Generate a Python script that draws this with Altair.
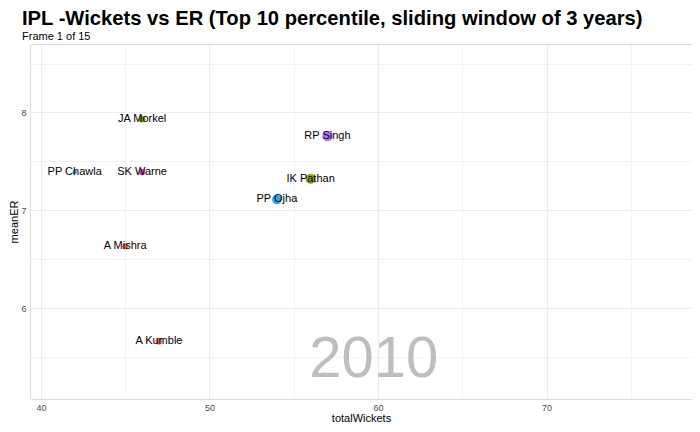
import altair as alt
import pandas as pd

players = ["A Kumble", "A Mishra", "JA Morkel", "SK Warne", "PP Chawla", "PP Ojha", "IK Pathan", "RP Singh"]
total_wickets = [47, 45, 46, 46, 42, 54, 56, 57]
mean_er = [5.66, 6.63, 7.93, 7.39, 7.39, 7.11, 7.32, 7.76]
colors = ["#F4776B", "#EE7558", "#6AA81A", "#E44CE0", "#1EA6E0", "#2FA8F0", "#8EAB2A", "#B07CF0"]

year_label = ["2010"]
year_x = [59.75]
year_y = [5.29]

x_ticks = [40, 45, 50, 55, 60, 65, 70, 75]
y_ticks = [5.5, 6, 6.5, 7, 7.5, 8, 8.5]

df = pd.DataFrame({"player": players, "totalWickets": total_wickets, "meanER": mean_er})
ydf = pd.DataFrame({"label": year_label, "x": year_x, "y": year_y})

FONT = "Liberation Sans"

xscale = alt.Scale(domain=[39.35, 78.63], nice=False, zero=False)
yscale = alt.Scale(domain=[5.07, 8.70], nice=False, zero=False)

xaxis = alt.Axis(
    values=x_ticks,
    labelExpr="datum.value % 10 == 0 ? format(datum.value, 'd') : ''",
    grid=True, gridColor="#EBEBEB",
    gridWidth={"condition": {"test": "datum.value % 10 == 0", "value": 1.1}, "value": 0.6},
    domain=False, ticks=False, labelFontSize=9, labelColor="#4D4D4D", labelFont=FONT,
    labelPadding=4, titleFontSize=11, titleColor="#000000", titleFont=FONT,
    titleFontWeight="normal", titlePadding=0,
)
yaxis = alt.Axis(
    values=y_ticks,
    labelExpr="datum.value % 1 == 0 ? format(datum.value, 'd') : ''",
    grid=True, gridColor="#EBEBEB",
    gridWidth={"condition": {"test": "datum.value % 1 == 0", "value": 1.1}, "value": 0.6},
    domain=False, ticks=False, labelFontSize=9, labelColor="#4D4D4D", labelFont=FONT,
    labelPadding=4, titleFontSize=11, titleColor="#000000", titleFont=FONT,
    titleFontWeight="normal", titlePadding=1,
)

base = alt.Chart(df)

year = alt.Chart(ydf).mark_text(
    font=FONT, fontSize=58, color="#BEBEBE", align="center", baseline="alphabetic"
).encode(
    x=alt.X("x:Q", scale=xscale, axis=xaxis, title="totalWickets"),
    y=alt.Y("y:Q", scale=yscale, axis=yaxis, title="meanER"),
    text="label:N",
)

points = base.mark_circle(opacity=1).encode(
    x=alt.X("totalWickets:Q", scale=xscale),
    y=alt.Y("meanER:Q", scale=yscale),
    color=alt.Color("player:N", scale=alt.Scale(domain=players, range=colors), legend=None),
    size=alt.Size("totalWickets:Q", scale=alt.Scale(domain=[42, 57], range=[20, 110], zero=False), legend=None),
)

labels = base.mark_text(font=FONT, fontSize=11, color="#000000", align="center", baseline="middle").encode(
    x=alt.X("totalWickets:Q", scale=xscale),
    y=alt.Y("meanER:Q", scale=yscale),
    text="player:N",
)

chart = alt.layer(year, points, labels).properties(
    width=662,
    height=355,
    autosize=alt.AutoSizeParams(type="none"),
    padding={"left": 22, "top": 36, "right": 0, "bottom": 25},
    title=alt.TitleParams(
        text="IPL -Wickets vs ER (Top 10 percentile, sliding window of 3 years)",
        subtitle="Frame 1 of 15",
        anchor="start", frame="group", dx=-8, offset=2,
        font=FONT, fontSize=20.2, fontWeight="bold", color="#000000",
        subtitleFont=FONT, subtitleFontSize=11, subtitleColor="#000000", subtitlePadding=2,
    ),
).configure_view(stroke=None).configure(background="white")

chart.save("out.html", embed_options={"renderer": "svg", "actions": False})
